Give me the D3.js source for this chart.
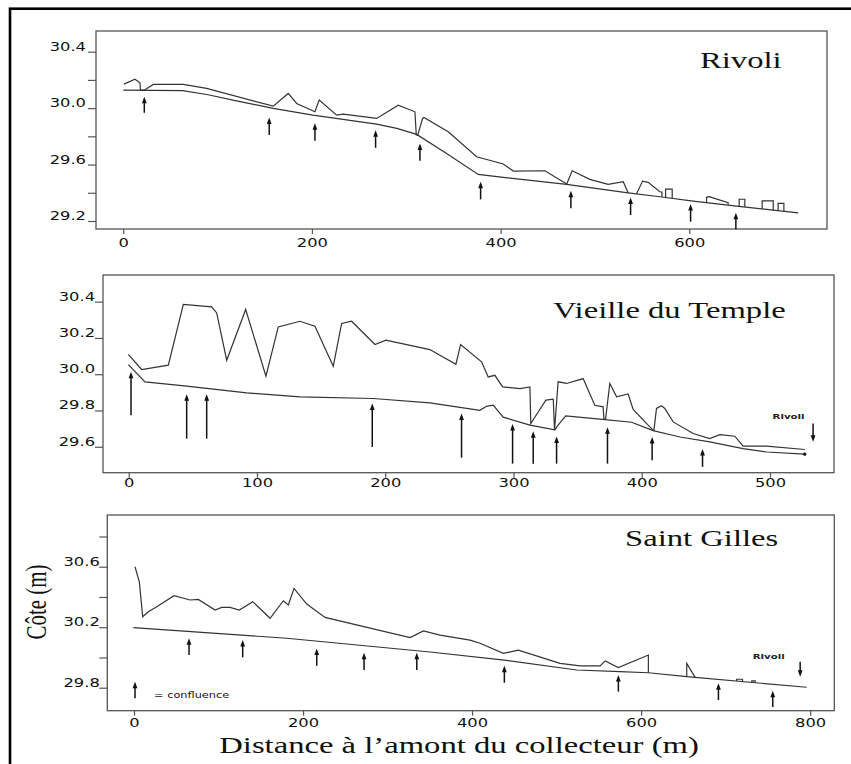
<!DOCTYPE html>
<html><head><meta charset="utf-8">
<script src="https://cdn.jsdelivr.net/npm/d3@7"></script>
<style>body{margin:0;background:#fff}svg{display:block}</style>
</head><body>
<svg id="c" width="851" height="764"></svg>
<script>
// ---------------- DATA ----------------
// Rivoli
const rivoliXTicks = [0, 200, 400, 600];
const rivoliYTicks = [29.2, 29.4, 29.6, 29.8, 30.0, 30.2, 30.4];
const rivoliYLabels = [29.2, 29.6, 30.0, 30.4];
const rivoliBed = [[0,30.127],[63,30.124],[90,30.095],[120,30.052],[159,29.998],[201,29.95],[268.5,29.887],[290,29.856],[311,29.814],[342.8,29.679],[376.3,29.53],[402.8,29.509],[470,29.46],[535.2,29.40],[568.8,29.372],[604.1,29.341],[650.1,29.306],[715.4,29.258]];
const rivoliSurface = [[0.7,30.17],[12.4,30.205],[17.7,30.18],[18.2,30.127],[22.3,30.127],[31.8,30.168],[63.6,30.168],[88.4,30.14],[159,30.014],[174.9,30.104],[183.8,30.033],[203.2,29.974],[207.7,30.057],[226.2,29.95],[233.2,29.958],[268.6,29.927],[291.5,30.021],[309.2,29.974],[310.6,29.81],[312.2,29.81],[317.3,29.927],[318.7,29.934],[344.5,29.832],[374.6,29.655],[402.8,29.604],[413.4,29.554],[447,29.556],[470,29.462],
  null,[470,29.46],[475.9,29.556],[494.6,29.495],[514,29.46],[530,29.478],[535.2,29.40],
  null,[544.1,29.393],[550.5,29.483],[556.4,29.474],[568.8,29.407],[571,29.405],[571,29.37],
  null,[574.9,29.366],[574.9,29.426],[581.9,29.426],[581.9,29.361],
  null,[618.3,29.333],[618.3,29.368],[621.1,29.372],[641.2,29.33],[641.2,29.316],
  null,[652.9,29.304],[652.9,29.354],[658.9,29.354],[658.9,29.3],
  null,[677.3,29.286],[677.3,29.342],[689,29.342],[689,29.277],
  null,[694.2,29.273],[694.2,29.325],[700.3,29.325],[700.3,29.269]];
// arrows: [x, tip elevation, tail elevation]
const rivoliArrows = [[22.3,30.08,29.967],[154.7,29.934,29.809],[203.2,29.892,29.768],[267.5,29.844,29.719],[314.5,29.75,29.627],[378.8,29.478,29.353],[474.5,29.414,29.29],[537.8,29.367,29.242],[601.4,29.32,29.195],[649.4,29.258,29.142]];

// Vieille du Temple
const vdtXTicks = [0, 100, 200, 300, 400, 500];
const vdtYTicks = [29.6, 29.8, 30.0, 30.2, 30.4];
const vdtYLabels = [29.6, 29.8, 30.0, 30.2, 30.4];
const vdtBed = [[-0.3,30.053],[12.7,29.958],[45.2,29.934],[92,29.897],[133.5,29.875],[190.6,29.866],[234.8,29.842],[273.8,29.801],[279,29.823],[284.2,29.829],[292,29.763],[312.8,29.719],[332.3,29.693],[334.8,29.719],[340.7,29.77],[371.4,29.75],[392.1,29.735],[408.9,29.689],[429.8,29.654],[453,29.627],[479,29.59],[497.3,29.571],[527.1,29.559]];
const vdtSurface = [[-0.3,30.109],[10.1,30.026],[30.9,30.05],[42.6,30.385],[64.7,30.371],[68.6,30.338],[76.4,30.077],[91.2,30.357],[107,29.989],[116.6,30.261],[133.5,30.292],[145.2,30.265],[159.5,30.044],[166,30.28],[173.8,30.292],[192,30.164],[200.5,30.188],[234.8,30.136],[255.1,30.055],[258.8,30.164],[275.1,30.068],[280.3,29.985],[285.5,29.994],[291.5,29.93],[305,29.921],[312.8,29.93],[313.5,29.728],[320,29.8],[325.3,29.857],[331,29.862],[332,29.691],[334.8,29.958],[341.4,29.949],[354.3,29.976],[363.4,29.829],[369.9,29.82],[370.5,29.752],[371.8,29.752],[375.1,29.949],[380.4,29.875],[389.4,29.891],[393.3,29.806],[407.6,29.70],[409.5,29.69],[411.5,29.811],[415.4,29.826],[418,29.811],[424.5,29.737],[440.1,29.673],[453,29.645],[460.9,29.667],[472.6,29.658],[479,29.603],[497.3,29.604],[527.1,29.585]];
const vdtArrows = [[1.8,30.013,29.774],[45.2,29.89,29.645],[60.8,29.89,29.645],[189.9,29.838,29.599],[259.5,29.783,29.54],[299.3,29.726,29.507],[315.4,29.686,29.507],[333.6,29.656,29.507],[373.3,29.707,29.507],[408.1,29.654,29.526],[447.4,29.588,29.489]];
const vdtDownArrow = [533.6, 29.627, 29.728];
const vdtEndPoint = [527.1, 29.559];
const vdtRivoliLabel = ["Rivoli", 502, 29.752];

// Saint Gilles
const sgXTicks = [0, 200, 400, 600, 800];
const sgYTicks = [29.8, 30.0, 30.2, 30.4, 30.6, 30.8];
const sgYLabels = [29.8, 30.2, 30.6];
const sgBed = [[-0.8,30.197],[180.7,30.127],[350.3,30.036],[438,29.983],[523.9,29.917],[575.1,29.906],[608.6,29.899],[654,29.873],[796,29.803]];
const sgSurface = [[1.2,30.6],[6.3,30.5],[10.3,30.269],[16.9,30.302],[26.9,30.336],[47.3,30.408],[66.3,30.38],[76.1,30.384],[95.9,30.314],[103.8,30.331],[113.6,30.331],[124.6,30.314],[140.5,30.369],[161,30.259],[176.7,30.375],[182.6,30.347],[189.3,30.457],[204.4,30.353],[226,30.265],[326.6,30.131],[342.4,30.175],[362.1,30.148],[397.6,30.115],[409.5,30.094],[437,30.027],[454.8,30.049],[504.1,29.961],[527.8,29.944],[551.5,29.944],[557.4,29.977],[573.1,29.933],[608.6,30.016],[608.6,29.899],
  null,[654,29.873],[654,29.961],[664,29.868],
  null,[713,29.844],[713,29.856],[720,29.856],[720,29.84],
  null,[731,29.835],[731,29.845],[735,29.845],[735,29.833]];
const sgArrows = [[65.1,30.127,30.016],[128.6,30.115,30.001],[216.2,30.06,29.945],[272.2,30.031,29.917],[334.6,30.031,29.917],[438.2,29.945,29.833],[573.1,29.884,29.774],[691.5,29.829,29.719],[755.8,29.78,29.672]];
const sgDownArrow = [788.2, 29.873, 29.972];
const sgRivoliLabel = ["Rivoli", 732, 29.99];
const sgLegendArrow = [1.2, 29.84, 29.73];
const sgLegendLabel = ["= confluence", 23.7, 29.734];

const titles = ["Rivoli", "Vieille du Temple", "Saint Gilles"];
const yAxisTitle = "Côte (m)";
const xAxisTitle = "Distance à l’amont du collecteur (m)";

// ---------------- DRAW ----------------
const SX = 1.42;             // horizontal stretch of the original picture
const svg = d3.select("#c");
svg.append("rect").attr("width",851).attr("height",764).attr("fill","#fff");
svg.append("rect").attr("x",10).attr("y",8.7).attr("width",900).attr("height",900)
  .attr("fill","none").attr("stroke","#000").attr("stroke-width",2.6);

const LINE = "#333", FRAME = "#555";

function drawPanel(p){
  const g = svg.append("g");
  const b = p.box;
  const x = d3.scaleLinear().domain(p.xDomain).range([b.x0, b.x1]);
  const y = d3.scaleLinear().domain(p.yDomain).range([b.y1, b.y0]);

  g.append("rect").attr("x",b.x0).attr("y",b.y0).attr("width",b.x1-b.x0).attr("height",b.y1-b.y0)
    .attr("fill","none").attr("stroke",FRAME).attr("stroke-width",1.3);

  const fmt = d3.format(".1f");
  const ya = d3.axisLeft(y).tickValues(p.yTicks).tickSize(8)
    .tickFormat(d => p.yLabels.some(v => Math.abs(v-d) < 1e-9) ? fmt(d) : "");
  const yg = g.append("g").attr("transform",`translate(${b.x0},0)`).call(ya)
    .attr("font-family","DejaVu Sans, Verdana, sans-serif").attr("font-size",11.5);
  yg.select(".domain").remove();
  yg.selectAll(".tick line").attr("stroke",FRAME).attr("stroke-width",1.2);
  yg.selectAll(".tick text").attr("x",-p.yGap/SX).attr("dy",0).attr("y",-1.5)
    .attr("transform",`scale(${SX},1)`).attr("fill","#111");

  const xa = d3.axisBottom(x).tickValues(p.xTicks).tickSize(5).tickFormat(d3.format("d"));
  const xg = g.append("g").attr("transform",`translate(0,${b.y1})`).call(xa)
    .attr("font-family","DejaVu Sans, Verdana, sans-serif").attr("font-size",11.5);
  xg.select(".domain").remove();
  xg.selectAll(".tick line").attr("stroke",FRAME).attr("stroke-width",1.2);
  xg.selectAll(".tick text").attr("y",p.xGap).attr("dy",0)
    .attr("transform",`scale(${SX},1)`).attr("fill","#111");

  const line = d3.line().defined(d => d != null).x(d => x(d[0])).y(d => y(d[1]));
  g.append("path").datum(p.bed).attr("d",line).attr("fill","none").attr("stroke",LINE).attr("stroke-width",1.2);
  g.append("path").datum(p.surface).attr("d",line).attr("fill","none").attr("stroke",LINE).attr("stroke-width",1.2);

  const drawArrow = (a, down) => {
    const ax = x(a[0]), tip = y(a[1]), tail = y(a[2]);
    const dir = down ? -1 : 1;   // head opens toward the tail
    g.append("line").attr("x1",ax).attr("x2",ax).attr("y1",tail).attr("y2",tip + dir*3)
      .attr("stroke","#111").attr("stroke-width",1.5);
    g.append("path").attr("d",`M${ax},${tip}L${ax-2.4},${tip+dir*6.5}L${ax+2.4},${tip+dir*6.5}Z`)
      .attr("fill","#111");
  };
  p.arrows.forEach(a => drawArrow(a, false));
  if (p.down) drawArrow(p.down, true);
  if (p.legendArrow) drawArrow(p.legendArrow, false);

  if (p.endPoint) g.append("circle").attr("cx",x(p.endPoint[0])).attr("cy",y(p.endPoint[1])).attr("r",1.6).attr("fill","#111");
  if (p.smallLabel) g.append("text").attr("transform",`translate(${x(p.smallLabel[1])},${y(p.smallLabel[2])}) scale(${SX},1)`)
      .attr("font-family","DejaVu Sans, sans-serif").attr("font-size",7.2).attr("font-weight","bold").attr("fill","#222").text(p.smallLabel[0]);
  if (p.legendLabel) g.append("text").attr("transform",`translate(${x(p.legendLabel[1])},${y(p.legendLabel[2])}) scale(${SX},1)`)
      .attr("font-family","DejaVu Sans, sans-serif").attr("font-size",8).attr("fill","#111").text(p.legendLabel[0]);

  g.append("text").attr("transform",`translate(${p.titlePos[0]},${p.titlePos[1]}) scale(${SX},1)`)
    .attr("font-family","Liberation Serif, Times New Roman, serif").attr("font-size",23).attr("fill","#111").text(p.title);
}

drawPanel({box:{x0:96,x1:827,y0:31,y1:229}, xDomain:[-28.9,746], yDomain:[29.1433,30.5467],
  xTicks:rivoliXTicks, yTicks:rivoliYTicks, yLabels:rivoliYLabels, yGap:10, xGap:18,
  bed:rivoliBed, surface:rivoliSurface, arrows:rivoliArrows, title:titles[0], titlePos:[700,68]});

drawPanel({box:{x0:103,x1:834,y0:275,y1:472.7}, xDomain:[-20.04,549.9], yDomain:[29.457,30.547],
  xTicks:vdtXTicks, yTicks:vdtYTicks, yLabels:vdtYLabels, yGap:8, xGap:14.5,
  bed:vdtBed, surface:vdtSurface, arrows:vdtArrows, down:vdtDownArrow, endPoint:vdtEndPoint,
  smallLabel:vdtRivoliLabel, title:titles[1], titlePos:[553,318]});

drawPanel({box:{x0:107.3,x1:834.3,y0:515,y1:710.7}, xDomain:[-31.6,828.6], yDomain:[29.648,30.942],
  xTicks:sgXTicks, yTicks:sgYTicks, yLabels:sgYLabels, yGap:7.5, xGap:16,
  bed:sgBed, surface:sgSurface, arrows:sgArrows, down:sgDownArrow, smallLabel:sgRivoliLabel,
  legendArrow:sgLegendArrow, legendLabel:sgLegendLabel, title:titles[2], titlePos:[625,546]});

svg.append("text").attr("transform",`translate(46,602) scale(${SX},1) rotate(-90)`)
  .attr("text-anchor","middle").attr("font-family","Liberation Serif, Times New Roman, serif")
  .attr("font-size",21).attr("fill","#111").text(yAxisTitle);
svg.append("text").attr("transform",`translate(459,753) scale(${SX},1)`)
  .attr("text-anchor","middle").attr("font-family","Liberation Serif, Times New Roman, serif")
  .attr("font-size",23).attr("fill","#111").text(xAxisTitle);
</script>
</body></html>
